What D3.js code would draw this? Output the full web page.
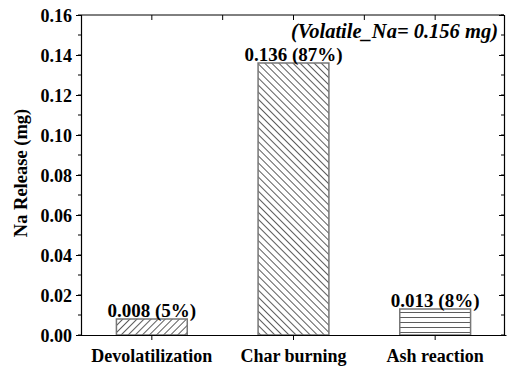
<!DOCTYPE html>
<html>
<head>
<meta charset="utf-8">
<script src="https://cdn.jsdelivr.net/npm/d3@7"></script>
<style>
  body { margin: 0; background: #fff; }
  text { font-family: "Liberation Serif", "Times New Roman", serif; font-weight: bold; fill: #000; }
</style>
</head>
<body>
<svg id="chart"></svg>
<script>
// data
const categories = ["Devolatilization", "Char burning", "Ash reaction"];
const values = [0.008, 0.136, 0.013];
const labels = ["0.008 (5%)", "0.136 (87%)", "0.013 (8%)"];
const hatches = ["fwd", "back", "horiz"];
const yTicks = [0, 0.02, 0.04, 0.06, 0.08, 0.10, 0.12, 0.14, 0.16];

const width = 509, height = 374;
const margin = { top: 15, right: 5, bottom: 39, left: 81 };

const svg = d3.select("#chart")
    .attr("width", width)
    .attr("height", height);

// hatch patterns
const defs = svg.append("defs");
function addPattern(id, size, rotate, spacing) {
    const p = defs.append("pattern")
        .attr("id", id)
        .attr("patternUnits", "userSpaceOnUse")
        .attr("width", size)
        .attr("height", spacing)
        .attr("patternTransform", `rotate(${rotate})`);
    p.append("line")
        .attr("x1", 0).attr("x2", size)
        .attr("y1", spacing / 2).attr("y2", spacing / 2)
        .attr("stroke", "#333")
        .attr("stroke-width", 0.8);
}
addPattern("fwd", 10, -45, 5);
addPattern("back", 10, 45, 5);
addPattern("horiz", 10, 0, 5);

const x = d3.scaleBand()
    .domain(categories)
    .range([margin.left, width - margin.right + 2])
    .paddingInner(0.5)
    .paddingOuter(0.25);

const y = d3.scaleLinear()
    .domain([0, 0.16])
    .range([height - margin.bottom, margin.top]);

const minorTicks = d3.range(0, 0.161, 0.01);

// bars
svg.append("g").selectAll("rect")
    .data(categories)
    .join("rect")
    .attr("x", d => x(d))
    .attr("y", (d, i) => y(values[i]))
    .attr("width", x.bandwidth())
    .attr("height", (d, i) => y(0) - y(values[i]))
    .attr("fill", (d, i) => `url(#${hatches[i]})`)
    .attr("stroke", "#777")
    .attr("stroke-width", 1.5);

// bar labels
svg.append("g").selectAll("text")
    .data(categories)
    .join("text")
    .attr("x", d => x(d) + x.bandwidth() / 2)
    .attr("y", (d, i) => y(values[i]) - 2)
    .attr("text-anchor", "middle")
    .style("font-size", "19px")
    .text((d, i) => labels[i]);

const plotW = width - margin.right;
const plotB = height - margin.bottom;

// left axis
const left = svg.append("g")
    .attr("transform", `translate(${margin.left},0)`)
    .call(d3.axisLeft(y).tickValues(yTicks).tickFormat(d3.format(".2f")).tickSize(5).tickPadding(4));
left.selectAll(".tick text").style("font-size", "18px").attr("dy", "0.35em");
left.append("g").selectAll("line")
    .data(minorTicks)
    .join("line")
    .attr("x1", 0).attr("x2", -3)
    .attr("y1", d => y(d)).attr("y2", d => y(d))
    .attr("stroke", "#000");

// right axis (inward ticks)
const right = svg.append("g")
    .attr("transform", `translate(${plotW},0)`)
    .call(d3.axisLeft(y).tickValues(yTicks).tickFormat("").tickSize(5));
right.append("g").selectAll("line")
    .data(minorTicks)
    .join("line")
    .attr("x1", 0).attr("x2", -3)
    .attr("y1", d => y(d)).attr("y2", d => y(d))
    .attr("stroke", "#000");

// bottom axis
const bottom = svg.append("g")
    .attr("transform", `translate(0,${plotB})`)
    .call(d3.axisBottom(x).tickSize(5).tickPadding(9).tickSizeOuter(0));
bottom.selectAll(".tick text").style("font-size", "18px").attr("dy", "0.71em");

// top axis (inward ticks at categories and midpoints)
const centers = categories.map(c => x(c) + x.bandwidth() / 2);
const topTicks = centers.concat(d3.pairs(centers).map(p => (p[0] + p[1]) / 2));
svg.append("line")
    .attr("x1", margin.left).attr("x2", plotW)
    .attr("y1", margin.top).attr("y2", margin.top)
    .attr("stroke", "#000");
svg.append("g").selectAll("line")
    .data(topTicks)
    .join("line")
    .attr("x1", d => d).attr("x2", d => d)
    .attr("y1", margin.top).attr("y2", margin.top + 5)
    .attr("stroke", "#000");

svg.selectAll(".domain").attr("stroke", "#000").attr("stroke-width", 1.2);

// y label
svg.append("text")
    .attr("transform", `translate(27,${(margin.top + plotB) / 2 - 2}) rotate(-90)`)
    .attr("text-anchor", "middle")
    .style("font-size", "18.5px")
    .text("Na Release (mg)");

// annotation
svg.append("text")
    .attr("x", plotW - 6)
    .attr("y", 38)
    .attr("text-anchor", "end")
    .style("font-size", "20.5px")
    .style("font-style", "italic")
    .text("(Volatile_Na= 0.156 mg)");
</script>
</body>
</html>
